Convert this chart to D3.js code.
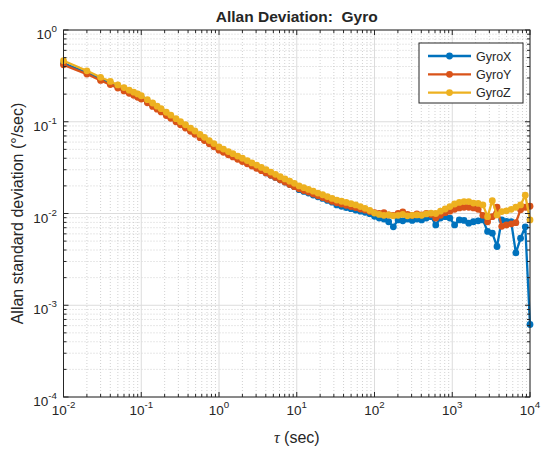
<!DOCTYPE html>
<html><head><meta charset="utf-8">
<script src="https://cdn.jsdelivr.net/npm/d3@7"></script>
<style>body{margin:0;background:#fff}svg{display:block}text{font-family:Arial,"Liberation Sans",Helvetica,sans-serif;fill:#262626;white-space:pre}</style>
</head><body><svg id="c" width="542" height="450"></svg>
<script>
const tau = [0.01,0.02,0.03,0.04,0.05,0.06,0.07,0.08,0.09,0.1,0.12,0.14,0.16,0.18,0.21,0.24,0.28,0.32,0.37,0.43,0.49,0.57,0.65,0.75,0.86,
1,1.14,1.32,1.51,1.74,2,2.31,2.65,3.05,3.51,4.03,4.64,5.33,6.13,7.05,8.11,9.32,10.72,12.32,14.17,16.29,18.73,21.54,24.77,28.48,32.74,37.64,43.28,49.77,57.22,65.79,75.64,86.97,
100,114.97,132.19,151.99,174.75,200.92,231.01,265.6,305.38,351.11,403.7,464.15,533.66,613.59,705.48,811.13,932.6,1072.26,1232.84,1417.47,1629.75,1873.81,2154.43,2477.07,2848.03,3274.54,3764.93,4328.76,4977.02,5722.36,6579.33,7564.63,8697.49,10000];
const gyroX = [0.432,0.343,0.292,0.263,0.241,0.225,0.211,0.201,0.192,0.183,0.166,0.152,0.142,0.132,0.122,0.113,0.104,0.0959,0.0885,0.0815,0.0757,0.0695,0.0646,0.0596,0.0552,
0.0507,0.0481,0.0452,0.0429,0.0404,0.0382,0.0360,0.0340,0.0321,0.0303,0.0277,0.0261,0.0247,0.0233,0.0220,0.0207,0.0196,0.0182,0.0174,0.0167,0.0159,0.0152,0.0146,0.0139,0.0133,0.0124,0.0120,0.0116,0.0113,0.0109,0.0106,0.0103,0.00995,
0.00933,0.00891,0.00871,0.00813,0.00716,0.00851,0.00832,0.00871,0.00841,0.00871,0.00851,0.00891,0.00923,0.00750,0.00891,0.00923,0.00891,0.00750,0.00851,0.00841,0.00785,0.00813,0.00832,0.00851,0.00638,0.00610,0.00437,0.00851,0.00822,0.00813,0.00372,0.00537,0.00716,0.000617];
const gyroY = [0.417,0.331,0.282,0.254,0.233,0.217,0.204,0.194,0.185,0.177,0.161,0.147,0.137,0.128,0.117,0.109,0.100,0.0927,0.0855,0.0787,0.0731,0.0671,0.0624,0.0575,0.0533,
0.0490,0.0465,0.0437,0.0414,0.0390,0.0369,0.0348,0.0329,0.0310,0.0293,0.0277,0.0261,0.0247,0.0233,0.0220,0.0207,0.0196,0.0186,0.0178,0.0171,0.0163,0.0156,0.0149,0.0143,0.0136,0.0131,0.0127,0.0123,0.0119,0.0116,0.0112,0.0109,0.0105,
0.0102,0.0100,0.0102,0.00966,0.00955,0.0100,0.0104,0.00977,0.00955,0.00989,0.00966,0.0100,0.00977,0.00891,0.00955,0.0102,0.0106,0.0111,0.0115,0.0117,0.0117,0.0115,0.0111,0.00955,0.00813,0.00923,0.0117,0.00724,0.00750,0.00770,0.00794,0.0110,0.0117,0.0120];
const gyroZ = [0.462,0.359,0.305,0.275,0.252,0.236,0.221,0.210,0.201,0.192,0.174,0.160,0.148,0.139,0.127,0.118,0.108,0.100,0.0927,0.0853,0.0793,0.0728,0.0676,0.0624,0.0578,
0.0531,0.0504,0.0473,0.0449,0.0423,0.0400,0.0377,0.0356,0.0337,0.0318,0.0300,0.0283,0.0267,0.0252,0.0238,0.0225,0.0213,0.0200,0.0191,0.0183,0.0175,0.0167,0.0160,0.0153,0.0146,0.0140,0.0136,0.0132,0.0128,0.0124,0.0119,0.0114,0.0108,
0.0101,0.00977,0.00955,0.00966,0.00944,0.00955,0.00977,0.00944,0.00955,0.00966,0.00955,0.00989,0.0101,0.0100,0.0106,0.0112,0.0119,0.0127,0.0132,0.0135,0.0135,0.0130,0.0129,0.0124,0.00923,0.0138,0.00966,0.0105,0.0107,0.0111,0.0117,0.0124,0.0158,0.00851];
const seriesNames = ["GyroX","GyroY","GyroZ"];
const seriesColors = ["#0072BD","#D95319","#EDB120"];
const xTickExps = ["-2","-1","0","1","2","3","4"];
const yTickExps = ["-4","-3","-2","-1","0"];
const titleText = "Allan Deviation:  Gyro";
const yLabelText = "Allan standard deviation (°/sec)";

const svg = d3.select("#c");
const L=63.5,R=530,T=30,B=397;
const x = d3.scaleLog().domain([1e-2,1e4]).range([L,R]);
const y = d3.scaleLog().domain([1e-4,1]).range([B,T]);

const xMajor = xTickExps.map(e=>Math.pow(10,+e));
const yMajor = yTickExps.map(e=>Math.pow(10,+e));
const minorOf = (maj)=>{const a=[];maj.slice(0,-1).forEach(d=>{for(let k=2;k<=9;k++)a.push(d*k);});return a;};
const xMinor = minorOf(xMajor), yMinor = minorOf(yMajor);

const g = svg.append("g");
g.selectAll(".xmg").data(xMinor).join("line").attr("x1",d=>x(d)).attr("x2",d=>x(d)).attr("y1",T).attr("y2",B)
 .attr("stroke","#bdbdbd").attr("stroke-width",0.7).attr("stroke-dasharray","1,2");
g.selectAll(".ymg").data(yMinor).join("line").attr("y1",d=>y(d)).attr("y2",d=>y(d)).attr("x1",L).attr("x2",R)
 .attr("stroke","#bdbdbd").attr("stroke-width",0.7).attr("stroke-dasharray","1,2");
g.selectAll(".xg").data(xMajor).join("line").attr("x1",d=>x(d)).attr("x2",d=>x(d)).attr("y1",T).attr("y2",B)
 .attr("stroke","#dcdcdc").attr("stroke-width",1);
g.selectAll(".yg").data(yMajor).join("line").attr("y1",d=>y(d)).attr("y2",d=>y(d)).attr("x1",L).attr("x2",R)
 .attr("stroke","#dcdcdc").attr("stroke-width",1);

const series=[gyroX,gyroY,gyroZ];
const line=d3.line().x(d=>x(d[0])).y(d=>y(d[1]));
series.forEach((vals,i)=>{
  const pts=tau.map((t,j)=>[t,vals[j]]);
  const sg=svg.append("g");
  sg.append("path").attr("d",line(pts)).attr("fill","none").attr("stroke",seriesColors[i]).attr("stroke-width",2.3).attr("stroke-linejoin","round");
  sg.selectAll("circle").data(pts).join("circle").attr("cx",d=>x(d[0])).attr("cy",d=>y(d[1])).attr("r",3.4).attr("fill",seriesColors[i]);
});

const ax=svg.append("g").attr("stroke","#262626").attr("stroke-width",1);
ax.append("rect").attr("x",L).attr("y",T).attr("width",R-L).attr("height",B-T).attr("fill","none");
const tk=(arr,len,isX)=>arr.forEach(d=>{
  if(isX){const p=x(d);ax.append("line").attr("x1",p).attr("x2",p).attr("y1",B).attr("y2",B-len);
    ax.append("line").attr("x1",p).attr("x2",p).attr("y1",T).attr("y2",T+len);}
  else{const p=y(d);ax.append("line").attr("y1",p).attr("y2",p).attr("x1",L).attr("x2",L+len);
    ax.append("line").attr("y1",p).attr("y2",p).attr("x1",R).attr("x2",R-len);}
});
tk(xMajor,5,true);tk(xMinor,3,true);tk(yMajor,5,false);tk(yMinor,3,false);

const fs=13.5;
xTickExps.forEach((e,i)=>{
  const t=svg.append("text").attr("x",x(xMajor[i])).attr("y",415).attr("text-anchor","middle").attr("font-size",fs);
  t.append("tspan").text("10");
  t.append("tspan").attr("dy",-7).attr("font-size",fs*0.72).text(e);
});
yTickExps.forEach((e,i)=>{
  const t=svg.append("text").attr("x",57).attr("y",y(yMajor[i])+9).attr("text-anchor","end").attr("font-size",fs);
  t.append("tspan").text("10");
  t.append("tspan").attr("dy",-7).attr("font-size",fs*0.72).text(e);
});

svg.append("text").attr("x",(L+R)/2).attr("y",22).attr("text-anchor","middle").attr("font-size",15.5).attr("font-weight","bold").attr("fill","#000").text(titleText);
const xl=svg.append("text").attr("x",(L+R)/2).attr("y",443).attr("text-anchor","middle").attr("font-size",16);
xl.append("tspan").attr("font-style","italic").attr("font-family","'Times New Roman','Liberation Serif',serif").text("τ");
xl.append("tspan").text(" (sec)");
svg.append("text").attr("transform",`translate(23,${(T+B)/2}) rotate(-90)`).attr("text-anchor","middle").attr("font-size",16).text(yLabelText);

const lg=svg.append("g");
lg.append("rect").attr("x",419).attr("y",43).attr("width",104).attr("height",60).attr("fill","#fff").attr("stroke","#262626").attr("stroke-width",1);
seriesNames.forEach((n,i)=>{
  const yy=56+i*18.3;
  lg.append("line").attr("x1",428).attr("x2",471).attr("y1",yy).attr("y2",yy).attr("stroke",seriesColors[i]).attr("stroke-width",2.3);
  lg.append("circle").attr("cx",449.5).attr("cy",yy).attr("r",3.4).attr("fill",seriesColors[i]);
  lg.append("text").attr("x",476).attr("y",yy+4.5).attr("font-size",12.5).text(n);
});
</script></body></html>
